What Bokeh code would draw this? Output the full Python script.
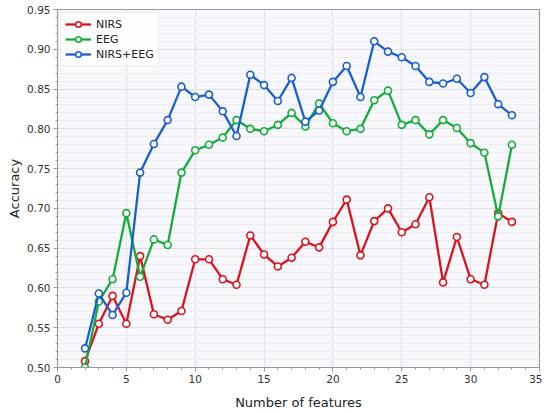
from bokeh.plotting import figure
from bokeh.models import SingleIntervalTicker, FixedTicker, NumeralTickFormatter, Range1d, Legend, LegendItem
from bokeh.embed import file_html
from bokeh.resources import INLINE

features = list(range(2, 34))
nirs = [0.508, 0.555, 0.590, 0.555, 0.640, 0.567, 0.560, 0.571, 0.636, 0.636,
        0.611, 0.604, 0.666, 0.642, 0.627, 0.638, 0.658, 0.651, 0.683, 0.711,
        0.641, 0.684, 0.700, 0.670, 0.680, 0.714, 0.607, 0.664, 0.611, 0.604,
        0.694, 0.683]
eeg = [0.500, 0.583, 0.611, 0.694, 0.614, 0.661, 0.654, 0.745, 0.773, 0.780,
       0.789, 0.811, 0.800, 0.797, 0.805, 0.820, 0.803, 0.832, 0.807, 0.797,
       0.800, 0.836, 0.848, 0.805, 0.811, 0.793, 0.811, 0.801, 0.782, 0.770,
       0.690, 0.780]
both = [0.524, 0.593, 0.566, 0.594, 0.745, 0.781, 0.811, 0.853, 0.840, 0.843,
        0.822, 0.791, 0.868, 0.855, 0.835, 0.864, 0.809, 0.823, 0.859, 0.879,
        0.840, 0.910, 0.897, 0.890, 0.879, 0.859, 0.857, 0.863, 0.845, 0.865,
        0.831, 0.817]
y_ticks = [0.50, 0.55, 0.60, 0.65, 0.70, 0.75, 0.80, 0.85, 0.90, 0.95]
y_minor = [round(0.50 + 0.01 * i, 2) for i in range(46)]
series = [("NIRS", nirs, "#d9141e"), ("EEG", eeg, "#15ad3a"), ("NIRS+EEG", both, "#1a5fd0")]

FONT = "DejaVu Sans"
p = figure(frame_width=482, frame_height=358, output_backend="svg", toolbar_location=None,
           x_range=Range1d(0, 35), y_range=Range1d(0.50, 0.95),
           min_border_left=57, min_border_right=3, min_border_top=9, min_border_bottom=40)
p.background_fill_color = "#f8f8fc"
p.border_fill_color = "white"
p.outline_line_color = "#9a9a9a"
p.outline_line_width = 1.2

p.xaxis.ticker = SingleIntervalTicker(interval=5, num_minor_ticks=5)
p.yaxis.ticker = FixedTicker(ticks=y_ticks, minor_ticks=y_minor)
p.yaxis.formatter = NumeralTickFormatter(format="0.00")
for ax in (p.xaxis, p.yaxis):
    ax.axis_line_color = "#9a9a9a"
    ax.major_tick_line_color = "#9a9a9a"
    ax.minor_tick_line_color = "#9a9a9a"
    ax.major_tick_out = 4
    ax.major_tick_in = 0
    ax.minor_tick_out = 2
    ax.minor_tick_in = 0
    ax.major_label_standoff = 3
    ax.major_label_text_font = FONT
    ax.major_label_text_font_size = "10.5px"
    ax.major_label_text_color = "#333333"
    ax.axis_label_text_font = FONT
    ax.axis_label_text_font_size = "13px"
    ax.axis_label_text_font_style = "normal"
    ax.axis_label_text_color = "#222222"
p.xaxis.axis_label = "Number of features"
p.yaxis.axis_label = "Accuracy"
p.xaxis.axis_label_standoff = 9
p.yaxis.axis_label_standoff = 2

p.xgrid.grid_line_color = "#dcdfe8"
p.ygrid.grid_line_color = "#dcdfe8"
p.ygrid.minor_grid_line_color = "#ecedf3"
p.xgrid.ticker = p.xaxis.ticker
p.ygrid.ticker = p.yaxis.ticker

items = []
for name, vals, col in series:
    r1 = p.line(features, vals, line_color=col, line_width=2.3)
    r2 = p.scatter(features, vals, size=7, fill_color="white", line_color=col, line_width=1.6)
    items.append(LegendItem(label=name, renderers=[r1, r2]))

legend = Legend(items=items, location="top_left")
legend.label_text_font = FONT
legend.label_text_font_size = "11px"
legend.label_text_color = "#222222"
legend.border_line_color = "#dddddd"
legend.background_fill_color = "white"
legend.background_fill_alpha = 0.85
legend.margin = 3
legend.padding = 4
legend.spacing = 1
legend.glyph_width = 26
legend.glyph_height = 14
legend.label_height = 14
legend.label_standoff = 5
p.add_layout(legend)

open("out.html", "w").write(file_html(p, INLINE))
